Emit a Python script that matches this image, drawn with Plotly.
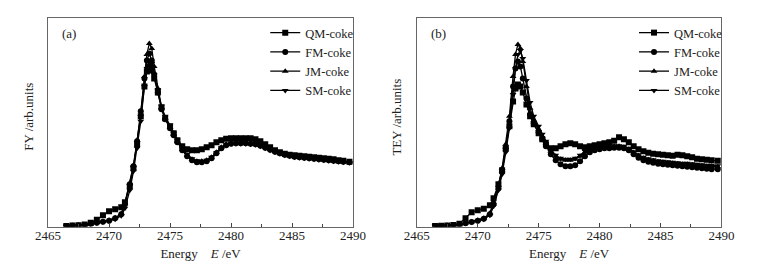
import plotly.graph_objects as go

energy = [2466.5, 2467.0, 2467.5, 2468.0, 2468.5, 2469.0, 2469.5, 2470.0, 2470.5, 2471.0,
          2471.3, 2471.7, 2472.0, 2472.3, 2472.6, 2472.9, 2473.1, 2473.3, 2473.5, 2473.7,
          2474.0, 2474.3, 2474.6, 2475.0, 2475.3, 2475.6, 2476.0, 2476.4, 2476.8, 2477.2,
          2477.6, 2478.0, 2478.4, 2478.8, 2479.2, 2479.6, 2480.0, 2480.4, 2480.8, 2481.2,
          2481.6, 2482.0, 2482.4, 2482.8, 2483.2, 2483.6, 2484.0, 2484.4, 2484.8, 2485.2,
          2485.6, 2486.0, 2486.4, 2486.8, 2487.2, 2487.6, 2488.0, 2488.4, 2488.8, 2489.2, 2489.7]

# Panel (a): FY
qm_fy = [0.3, 0.6, 1.0, 1.8, 3.5, 6.5, 11, 15, 17, 19,
         24, 40, 58, 82, 110, 140, 155, 160, 156, 148,
         134, 119, 108, 100, 93, 86, 80, 77, 76, 76,
         77, 79, 81, 84, 86, 87.5, 88, 88, 88, 88,
         88, 87, 85, 82, 79, 76, 74, 72.5, 71.5, 71,
         70.5, 70, 69.5, 69, 68.5, 68, 67.5, 67, 66, 65.5, 64.5]
fm_fy = [0.2, 0.4, 0.7, 1.2, 2.2, 3.5, 4.5, 5.5, 8, 12,
         22, 42, 60, 85, 115, 148, 166, 173, 166, 152,
         134, 117, 107, 98, 91, 84, 76, 70, 66, 64,
         64, 65, 68, 73, 78, 81, 82.5, 83, 83, 83,
         82.5, 82, 80.5, 78.5, 76.5, 74.5, 73, 71.5, 70.5, 69.5,
         69, 68.5, 68, 67.5, 67, 66.5, 66, 65.5, 65, 64.5, 64]
jm_fy = [0.2, 0.4, 0.7, 1.2, 2.4, 3.8, 4.8, 6, 8.5, 12.5,
         23, 43, 61, 86, 112, 150, 172, 183, 178, 160,
         138, 119, 108, 99, 92, 85, 77, 71, 67, 65,
         65, 66, 69, 74, 79, 82, 83.5, 83.5, 83.5, 83.5,
         83, 82.5, 81, 79, 77, 75, 73.5, 72, 71, 70,
         69.5, 69, 68.5, 68, 67.5, 67, 66.5, 66, 65.5, 65, 64.5]
sm_fy = [0.1, 0.3, 0.5, 1.0, 2.0, 3.2, 4.2, 5.0, 7, 10.5,
         18, 36, 55, 78, 105, 140, 158, 165, 163, 152,
         137, 120, 110, 101, 93, 86, 78, 72, 67.5, 65.5,
         65, 66, 69, 73.5, 78.5, 81.5, 82.5, 82.5, 82.5, 82.5,
         82, 81.5, 80, 78, 76, 74, 72.5, 71, 70, 69,
         68.5, 68, 67.5, 67, 66.5, 66, 65.5, 65, 64.5, 64, 63.5]

# Panel (b): TEY
qm_tey = [0.3, 0.5, 0.8, 1.2, 2.5, 8, 14, 16, 17.5, 21,
          28, 42, 56, 78, 100, 125, 138, 142, 140, 134,
          122, 110, 102, 93, 87, 82, 78, 78, 80, 82,
          83, 82, 80, 79, 80, 81, 82, 83, 84, 85.5,
          89, 87, 84, 80, 77, 75, 73.5, 72.5, 72, 71.5,
          71, 70.5, 71.5, 71, 70, 69, 67.5, 67, 66.5, 66, 65.5]
fm_tey = [0.2, 0.3, 0.5, 0.8, 1.5, 3, 4.2, 5.5, 7.5, 12,
          22, 38, 55, 78, 105, 140, 158, 165, 160, 148,
          128, 112, 103, 94, 87, 80, 72, 66, 62, 60,
          60, 61, 65, 70, 74, 76, 77, 78, 78, 78.5,
          78.5, 78, 76, 72, 68.5, 66, 64.5, 63.5, 62.5, 62,
          61.5, 61, 60.5, 60, 59.5, 59, 58.5, 58, 57.5, 57, 57]
jm_tey = [0.2, 0.3, 0.5, 0.8, 1.6, 3.2, 4.5, 6, 8, 13,
          24, 41, 58, 82, 110, 150, 172, 182, 178, 165,
          140, 118, 106, 97, 90, 83, 75, 70, 67, 66,
          66, 67, 70, 74, 77, 78.5, 79, 79.5, 80, 80,
          80, 79, 77, 73.5, 70.5, 68, 66.5, 65.5, 64.5, 64,
          63.5, 63, 62.5, 62, 62, 61.5, 61, 60.5, 60, 60, 59.5]
sm_tey = [0.1, 0.2, 0.4, 0.7, 1.3, 2.8, 4, 5, 7, 11,
          20, 36, 52, 74, 98, 132, 158, 172, 176, 168,
          146, 124, 110, 100, 92, 85, 77, 71, 68, 67,
          67, 68, 71, 75, 77.5, 79, 79.5, 80, 80.5, 80.5,
          80.5, 80, 78, 74.5, 71.5, 69, 67.5, 66.5, 65.5, 65,
          64.5, 64, 63.5, 63, 63, 62.5, 62, 61.5, 61, 61, 60.5]

names = ["QM-coke", "FM-coke", "JM-coke", "SM-coke"]
symbols = ["square", "circle", "triangle-up", "triangle-down"]
x_ticks = [2465, 2470, 2475, 2480, 2485, 2490]

FONT = "Liberation Serif"
OFF = 8                      # default page margin of the HTML body
W, H = 759 - OFF, 276 - OFF  # figure size so it fits the window


def fx(px):  # page pixel x -> paper fraction
    return (px - OFF) / W


def fy(py):  # page pixel y -> paper fraction
    return 1 - (py - OFF) / H


fig = go.Figure()
panels = [
    ("x", "y", "legend", [qm_fy, fm_fy, jm_fy, sm_fy]),
    ("x2", "y2", "legend2", [qm_tey, fm_tey, jm_tey, sm_tey]),
]
for xa, ya, lg, series in panels:
    for name, sym, vals in zip(names, symbols, series):
        fig.add_trace(go.Scatter(
            x=energy, y=vals, name=name, mode="lines+markers",
            xaxis=xa, yaxis=ya, legend=lg,
            line=dict(color="black", width=1.3),
            marker=dict(symbol=sym, size=6, color="black"),
        ))


def xaxis_style(domain, anchor):
    return dict(
        domain=domain, anchor=anchor, range=[2465, 2490],
        tickvals=x_ticks, ticks="inside", ticklen=4, tickcolor="#444",
        minor=dict(dtick=2.5, tick0=2465, ticks="inside", ticklen=3, tickcolor="#444"),
        showline=True, linecolor="#666", linewidth=1, mirror=True,
        showgrid=False, zeroline=False, ticklabelstandoff=-3,
        tickfont=dict(family=FONT, size=13, color="#222"),
        title=dict(text="Energy\u00a0\u00a0\u00a0\u00a0<i>E</i> /eV",
                   font=dict(family=FONT, size=13, color="#222"), standoff=6),
    )


def yaxis_style(domain, anchor):
    return dict(
        domain=domain, anchor=anchor, range=[-0.3, 208.5],
        showticklabels=False, ticks="", showgrid=False, zeroline=False,
        showline=True, linecolor="#666", linewidth=1, mirror=True,
    )


ydom = [fy(226.5), fy(18)]
legend_common = dict(yanchor="top", xanchor="left",
                     font=dict(family=FONT, size=12.5, color="#222"),
                     bgcolor="rgba(0,0,0,0)", itemwidth=30, tracegroupgap=0)
text_font = dict(family=FONT, size=13, color="#222")
fig.update_layout(
    width=W, height=H,
    margin=dict(l=0, r=0, t=0, b=0),
    paper_bgcolor="white", plot_bgcolor="white",
    xaxis=xaxis_style([fx(36), fx(352)], "y"),
    yaxis=yaxis_style(ydom, "x"),
    xaxis2=xaxis_style([fx(418), fx(733.5)], "y2"),
    yaxis2=yaxis_style(ydom, "x2"),
    legend=dict(x=fx(261), y=fy(18), **legend_common),
    legend2=dict(x=fx(643), y=fy(18), **legend_common),
    annotations=[
        dict(text="(a)", x=fx(48), y=fy(34), xref="paper", yref="paper",
             xanchor="left", yanchor="middle", showarrow=False, font=text_font),
        dict(text="(b)", x=fx(431), y=fy(34), xref="paper", yref="paper",
             xanchor="left", yanchor="middle", showarrow=False, font=text_font),
        dict(text="FY /arb.units", x=fx(15), y=fy(117), xref="paper", yref="paper",
             xanchor="center", yanchor="middle", textangle=-90, showarrow=False,
             font=text_font),
        dict(text="TEY /arb.units", x=fx(396), y=fy(117), xref="paper", yref="paper",
             xanchor="center", yanchor="middle", textangle=-90, showarrow=False,
             font=text_font),
    ],
    showlegend=True,
)

fig.write_html("out.html")
